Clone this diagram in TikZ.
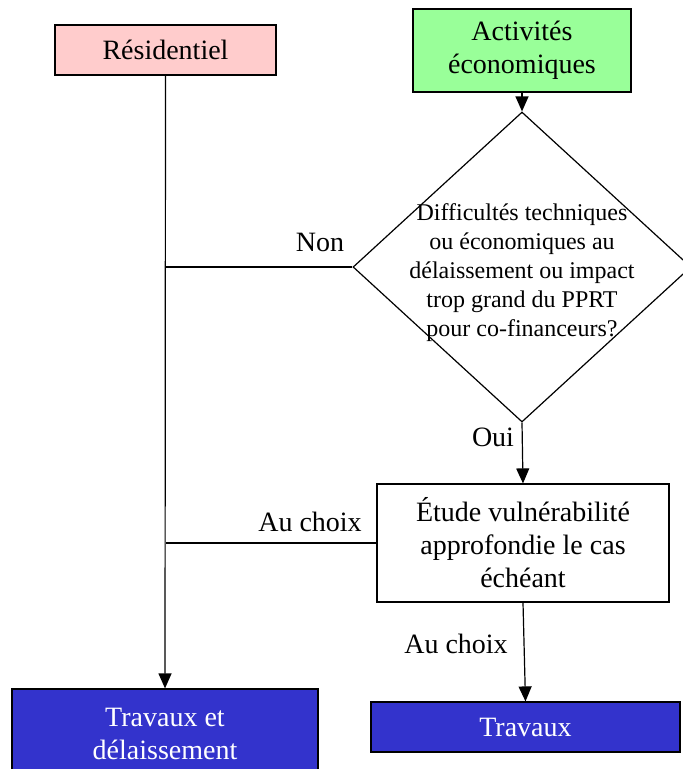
\documentclass[tikz,border=0pt]{standalone}
\usepackage{fontspec}
\setmainfont{Liberation Serif}
\usetikzlibrary{shapes.geometric,arrows.meta}
\definecolor{pinkbox}{HTML}{FFCCCC}
\definecolor{greenbox}{HTML}{99FF99}
\definecolor{bluebox}{HTML}{3333CC}
\begin{document}
\begin{tikzpicture}[x=1pt,y=-1pt,
  box/.style={draw, line width=1.2pt, inner sep=0pt, align=center, font=\fontsize{28pt}{33pt}\selectfont},
  lbl/.style={inner sep=0pt, font=\fontsize{28pt}{33pt}\selectfont},
  conn/.style={line width=1.2pt},
  arr/.style={conn, -{Triangle[length=15pt,width=13pt]}}]
\useasboundingbox (0,0) rectangle (683,769);
\node[box, fill=pinkbox, minimum width=221pt, minimum height=50pt] (res) at (165.5,50) {Résidentiel};
\node[box, fill=greenbox, minimum width=218pt, minimum height=83pt] (act) at (522,50.5) {Activités\\économiques};
\node[draw, line width=1.2pt, diamond, inner sep=0pt, minimum width=338pt, minimum height=310pt] (dia) at (522,267) {};
\node[inner sep=0pt, align=center, font=\fontsize{24pt}{29pt}\selectfont] (diatext) at (522,273) {Difficultés techniques\\ou économiques au\\délaissement ou impact\\trop grand du PPRT\\pour co-financeurs?};
\node[box, fill=white, minimum width=292pt, minimum height=118pt] (etude) at (523,543) {Étude vulnérabilité\\approfondie le cas\\échéant};
\node[box, fill=bluebox, text=white, minimum width=306pt, minimum height=90pt] (tdl) at (165,734) {Travaux et\\délaissement};
\node[box, fill=bluebox, text=white, minimum width=309pt, minimum height=50pt] (trav) at (525.5,727) {Travaux};
\coordinate (j1) at (dia.west -| res.south);
\coordinate (j2) at (etude.west -| res.south);
\draw[arr] (act.south) -- (dia.north);
\draw[arr] (res.south) -- (tdl.north);
\draw[conn] (dia.west) -- (j1);
\draw[conn] (etude.west) -- (j2);
\draw[arr] (dia.south) -- (etude.north);
\draw[arr] (etude.south) -- (trav.north);
\node[lbl] (non) at (320,242) {Non};
\node[lbl] (oui) at (493,437) {Oui};
\node[lbl] (ac1) at (310,522) {Au choix};
\node[lbl] (ac2) at (456,644) {Au choix};
\end{tikzpicture}
\end{document}
